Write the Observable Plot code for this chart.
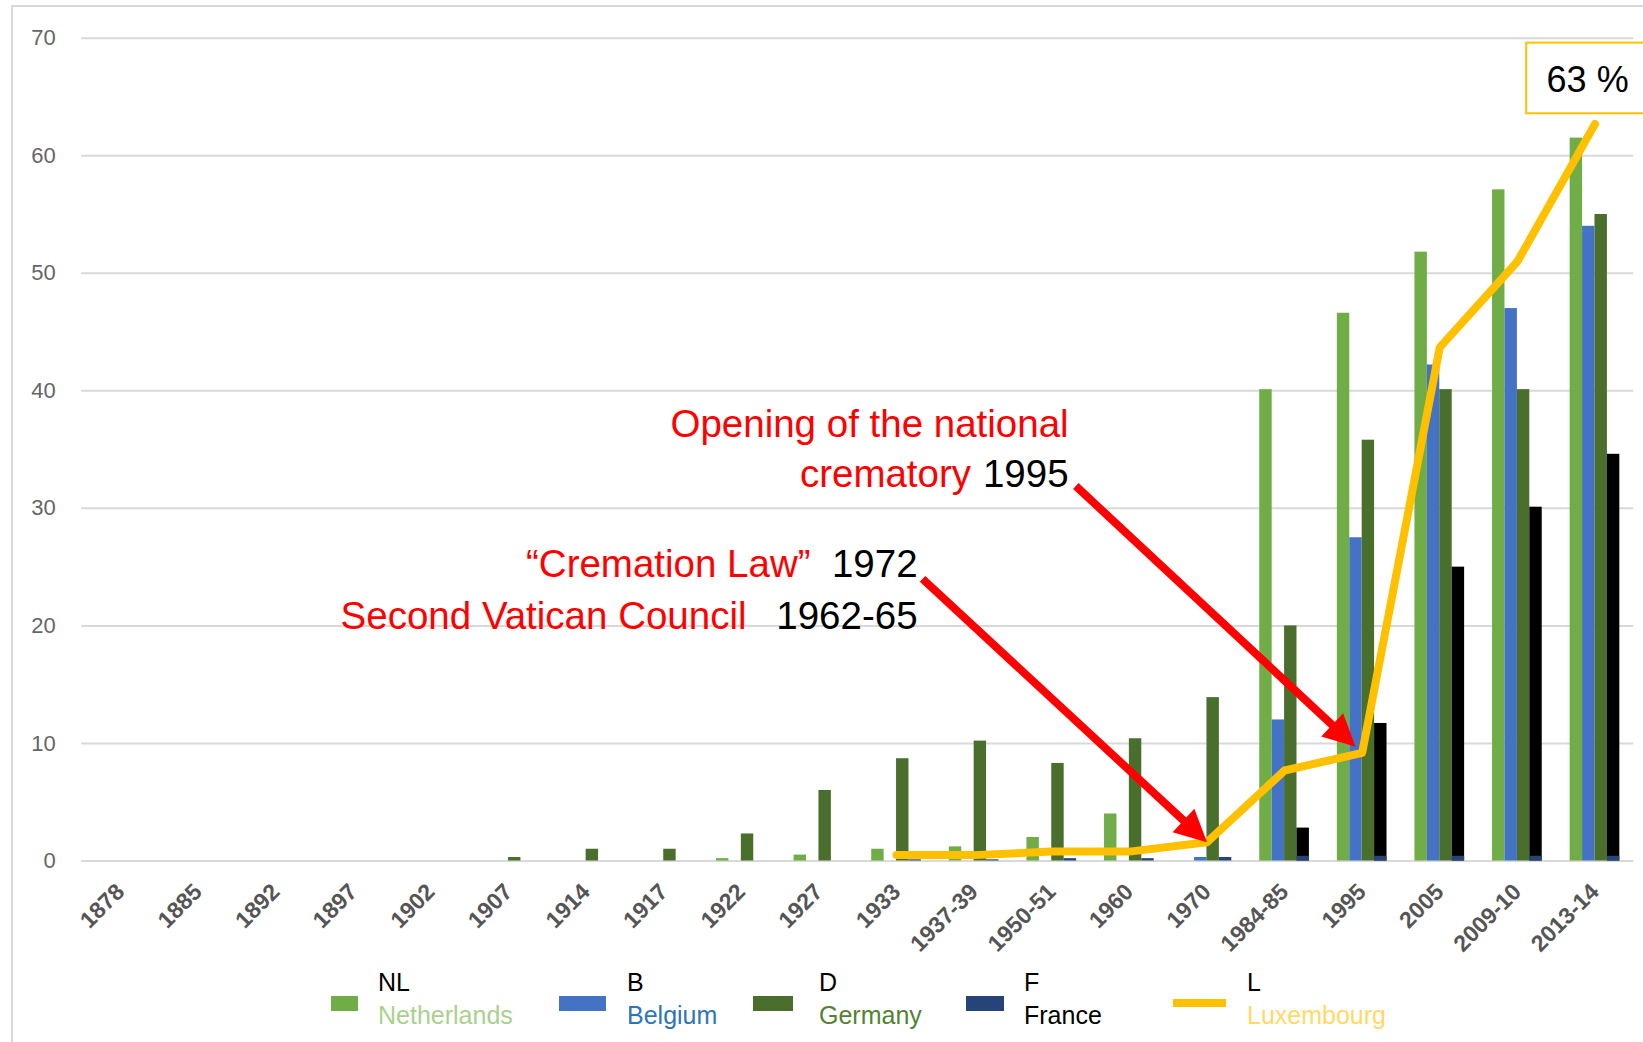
<!DOCTYPE html>
<html>
<head>
<meta charset="utf-8">
<script src="https://cdn.jsdelivr.net/npm/d3@7"></script>
<script src="https://cdn.jsdelivr.net/npm/@observablehq/plot@0.6"></script>
<style>
  body { margin: 0; background: #fff; }
  #wrap { position: relative; width: 1643px; height: 1042px; overflow: hidden; font-family: "Liberation Sans", Arial, sans-serif; background: #fff; }
  #frame { position: absolute; left: 11px; top: 5px; width: 1700px; height: 1100px; border-left: 2px solid #d9d9d9; border-top: 2px solid #d9d9d9; box-sizing: border-box; }
  #chart { position: absolute; left: 0; top: 0; }
  #legend { position: absolute; left: 0; top: 0; }
  .lg-sw { position: absolute; }
  .lg-tx { position: absolute; top: 966px; font-size: 25px; line-height: 33px; white-space: nowrap; }
  .lg-tx .code { color: #000; }
</style>
</head>
<body>
<div id="wrap">
  <div id="frame"></div>
  <div id="chart"></div>
  <div id="legend"></div>
</div>
<script>
// ---------- data ----------
const years = ["1878","1885","1892","1897","1902","1907","1914","1917","1922","1927","1933","1937-39","1950-51","1960","1970","1984-85","1995","2005","2009-10","2013-14"];
const netherlands   = [null,null,null,null,null,null,null,null,0.2,0.5,1.0,1.2,2.0,4.0,null,40.1,46.6,51.8,57.1,61.5];
const belgium       = [null,null,null,null,null,null,null,null,null,null,null,null,null,null,0.3,12.0,27.5,42.2,47.0,54.0];
const germany       = [null,null,null,null,null,0.3,1.0,1.0,2.3,6.0,8.7,10.2,8.3,10.4,13.9,20.0,35.8,40.1,40.1,55.0];
const france        = [null,null,null,null,null,null,null,null,null,null,0.1,0.1,0.2,0.2,0.3,0.4,0.4,0.4,0.4,0.4];
const franceUpdated = [null,null,null,null,null,null,null,null,null,null,null,null,null,null,null,2.8,11.7,25.0,30.1,34.6];
const luxembourg    = [null,null,null,null,null,null,null,null,null,null,0.5,0.5,0.8,0.8,1.6,7.7,9.2,43.7,51.0,62.7];
const yTicks = [0,10,20,30,40,50,60,70];

// legend
const legendCodes = ["NL","B","D","F","L"];
const legendNames = ["Netherlands","Belgium","Germany","France","Luxembourg"];

// annotations (positions in data units: x = category index, y = percent)
const redNotes   = [
  {text: "Opening of the national", x: 12.217, y: 36.06},
  {text: "crematory", x: 10.96, y: 31.8},
  {text: "\u201CCremation Law\u201D", x: 8.892, y: 24.15},
  {text: "Second Vatican Council", x: 8.067, y: 19.75}
];
const blackNotes = [
  {text: "1995", x: 12.217, y: 31.8},
  {text: "1972", x: 10.271, y: 24.15},
  {text: "1962-65", x: 10.271, y: 19.75}
];
const arrowStarts = [{x: 10.335, y: 24.0}, {x: 12.31, y: 31.9}];
const arrowTargets = ["1970", "1995"];
const arrowInsets = [0, 9];
const callout = {x1: 18.12, x2: 21, y1: 63.57, y2: 69.58, tx: 18.905, ty: 65.4};

// ---------- styles ----------
const C = {NL: "#70AD47", B: "#4472C4", D: "#4A6F2C", F: "#264478", Fblack: "#000000", L: "#FFC000"};
const nameColors = ["#A9D18E", "#2E75B6", "#548235", "#000000", "#FFD966"];

const W = 1643, H = 965, ML = 81.2, MR = 9.7, MT = 37.7, MB = H - 860.5;

const slotW = 0.16, groupW = 4 * slotW;
function barRows(values, slot) {
  return values.map((v, i) => ({i, v, x1: i - groupW / 2 + slot * slotW, x2: i - groupW / 2 + (slot + 1) * slotW}))
               .filter(d => d.v != null);
}
const luxRows = luxembourg.map((v, i) => ({i, v})).filter(d => d.v != null);

// scales (to compute arrow geometry in pixels)
const xs = Plot.scale({x: {type: "linear", domain: [-0.5, 19.5], range: [ML, W - MR]}});
const ys = Plot.scale({y: {type: "linear", domain: [0, 70], range: [H - MB, MT]}});

const headL = 32, headW = 32;
const shafts = [], heads = [];
arrowStarts.forEach((s, k) => {
  const ti = years.indexOf(arrowTargets[k]);
  const sx = xs.apply(s.x), sy = ys.apply(s.y);
  let tx = xs.apply(ti), ty = ys.apply(luxembourg[ti]);
  const dx = tx - sx, dy = ty - sy, len = Math.hypot(dx, dy);
  const ux = dx / len, uy = dy / len;
  tx -= ux * arrowInsets[k]; ty -= uy * arrowInsets[k];
  const ex = tx - ux * (headL - 6), ey = ty - uy * (headL - 6);
  shafts.push({x1: s.x, y1: s.y, x2: xs.invert(ex), y2: ys.invert(ey)});
  heads.push({x: xs.invert(tx), y: ys.invert(ty), angle: Math.atan2(ux, -uy) * 180 / Math.PI});
});
const arrowHead = {
  draw(ctx) {
    ctx.moveTo(0, 0);
    ctx.lineTo(headW / 2, headL);
    ctx.lineTo(-headW / 2, headL);
    ctx.closePath();
  }
};

const chart = Plot.plot({
  width: W, height: H,
  marginLeft: ML, marginRight: MR, marginTop: MT, marginBottom: MB,
  style: {fontFamily: "'Liberation Sans', Arial, sans-serif", background: "transparent", overflow: "hidden"},
  x: {type: "linear", domain: [-0.5, 19.5], axis: null},
  y: {type: "linear", domain: [0, 70], axis: null},
  marks: [
    Plot.gridY(yTicks, {stroke: "#d9d9d9", strokeOpacity: 1, strokeWidth: 2}),
    Plot.rect(barRows(netherlands, 0), {x1: "x1", x2: "x2", y1: 0, y2: "v", fill: C.NL}),
    Plot.rect(barRows(belgium, 1), {x1: "x1", x2: "x2", y1: 0, y2: "v", fill: C.B}),
    Plot.rect(barRows(germany, 2), {x1: "x1", x2: "x2", y1: 0, y2: "v", fill: C.D}),
    Plot.rect(barRows(franceUpdated, 3), {x1: "x1", x2: "x2", y1: 0, y2: "v", fill: C.Fblack}),
    Plot.rect(barRows(france, 3), {x1: "x1", x2: "x2", y1: 0, y2: "v", fill: C.F}),
    Plot.line(luxRows, {x: "i", y: "v", stroke: C.L, strokeWidth: 8, strokeLinejoin: "round", strokeLinecap: "round"}),
    Plot.axisY(yTicks, {tickSize: 0, tickPadding: 26, fontSize: 22, fill: "#666666"}),
    Plot.axisX(d3.range(years.length), {tickFormat: i => years[i], tickRotate: -45, tickSize: 0, tickPadding: 27, fontSize: 23, fontWeight: "bold", fill: "#555555"}),
    Plot.link(shafts, {x1: "x1", y1: "y1", x2: "x2", y2: "y2", stroke: "#FF0000", strokeWidth: 8}),
    Plot.dot(heads, {x: "x", y: "y", rotate: "angle", symbol: arrowHead, fill: "#FF0000", stroke: "none"}),
    Plot.text(redNotes, {x: "x", y: "y", text: "text", fill: "#FF0000", fontSize: 38.5, textAnchor: "end", lineAnchor: "bottom"}),
    Plot.text(blackNotes, {x: "x", y: "y", text: "text", fill: "#000000", fontSize: 38.5, textAnchor: "end", lineAnchor: "bottom"}),
    Plot.rect([callout], {x1: "x1", x2: "x2", y1: "y1", y2: "y2", fill: "#ffffff", stroke: "#FFC000", strokeWidth: 2}),
    Plot.text([callout], {x: "tx", y: "ty", text: () => `${Math.round(luxembourg[luxembourg.length - 1])} %`, fill: "#000", fontSize: 36, textAnchor: "middle", lineAnchor: "bottom"})
  ]
});
document.getElementById("chart").appendChild(chart);

// ---------- legend ----------
const swLeft = [331, 559, 753, 966, 1173];
const swWidth = [27, 47, 40, 38, 53];
const txLeft = [378, 627, 819, 1024, 1247];
const swColors = [C.NL, C.B, C.D, C.F, C.L];
const lg = d3.select("#legend");
legendCodes.forEach((code, k) => {
  const isLine = code === "L";
  lg.append("div").attr("class", "lg-sw")
    .style("left", swLeft[k] + "px")
    .style("top", (isLine ? 999 : 996) + "px")
    .style("width", swWidth[k] + "px")
    .style("height", (isLine ? 8 : 15) + "px")
    .style("background", swColors[k]);
  const t = lg.append("div").attr("class", "lg-tx").style("left", txLeft[k] + "px");
  t.append("div").attr("class", "code").text(code);
  t.append("div").style("color", nameColors[k]).text(legendNames[k]);
});
</script>
</body>
</html>
